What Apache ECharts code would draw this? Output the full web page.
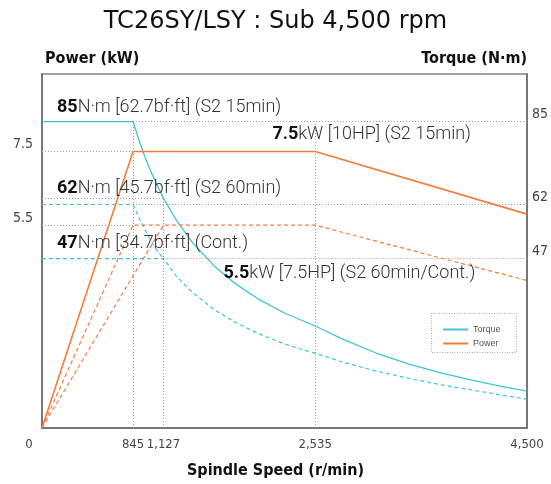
<!DOCTYPE html>
<html>
<head>
<meta charset="utf-8">
<script src="https://cdn.jsdelivr.net/npm/echarts@6/dist/echarts.min.js"></script>
<style>
html,body{margin:0;padding:0;background:#fff;}
#c{width:551px;height:484px;}
</style>
</head>
<body>
<div id="c"></div>
<script>
// ---- tick labels ----
const speedTicks = [0, 845, 1127, 2535, 4500];
const powerTicks = [5.5, 7.5];
const torqueTicks = [47, 62, 85];

// ---- torque curves (N·m) ----
const torque15Speed = [0, 845, 900, 950, 1000, 1127, 1250, 1400, 1600, 1800, 2000, 2250, 2535, 2800, 3100, 3400, 3700, 4000, 4250, 4500];
const torque15Value = [85, 85, 79.8, 75.6, 71.8, 63.7, 57.5, 51.3, 44.9, 39.9, 35.9, 31.9, 28.3, 24.5, 20.8, 17.8, 15.3, 13.2, 11.6, 10.2];

const torque60Speed = [0, 845, 900, 950, 1000, 1060, 1127];
const torque60Value = [62, 62, 58.4, 55.3, 52.5, 49.5, 47];

const torqueContSpeed = [0, 1127, 1250, 1400, 1600, 1800, 2000, 2250, 2535, 2800, 3100, 3400, 3700, 4000, 4250, 4500];
const torqueContValue = [47, 47, 42.0, 37.5, 32.8, 29.2, 26.3, 23.3, 20.7, 18.2, 15.8, 13.8, 12.0, 10.5, 9.2, 8.0];

// ---- power curves (kW) ----
const power15Speed = [0, 845, 2535, 4500];
const power15Value = [0, 7.5, 7.5, 5.8];

const power60Speed = [0, 845, 1127];
const power60Value = [0, 5.5, 5.5];

const powerContSpeed = [0, 1127, 2535, 4500];
const powerContValue = [0, 5.5, 5.5, 4.0];

// ---- reference (dotted) lines ----
const torqueRefH = [[845, 4500, 85], [845, 4500, 62], [1127, 4500, 47], [0, 1127, 63.7]]; // [from, to, torque]
const torqueRefV = [[845, 85], [1127, 63.7], [2535, 85]];                               // [speed, top torque]
const powerRefH = [[0, 845, 7.5], [0, 845, 5.5]];                                        // [from, to, power]

const zip = (xs, ys) => xs.map((x, i) => [x, ys[i]]);

const CYAN = '#3fc4d6';
const ORANGE = '#f47b3b';
const REF = { type: [1, 2], color: '#9a9a9a', width: 1 };
const LBL = "'Liberation Sans Narrow','DejaVu Sans Condensed',sans-serif";
const ANN = "Roboto,'Noto Sans',sans-serif";
const BOLDT = "'DejaVu Sans Condensed','Liberation Sans Narrow',sans-serif";

const annRich = {
  b: { fontFamily: ANN, fontSize: 18, fontWeight: 'bold', color: '#111' },
  n: { fontFamily: ANN, fontSize: 18, fontWeight: 300, color: '#333' }
};
function ann(coord, text, bold, offset, align) {
  return {
    coord: coord,
    symbol: 'circle', symbolSize: 0,
    itemStyle: { color: 'rgba(0,0,0,0)' },
    label: {
      show: true, position: 'inside', align: align || 'left', verticalAlign: 'middle',
      offset: offset, rich: annRich,
      formatter: '{b|' + bold + '}{n|' + text + '}'
    }
  };
}

const torqueRefLines = torqueRefH.map(r => [{ coord: [r[0], r[2]] }, { coord: [r[1], r[2]] }])
  .concat(torqueRefV.map(r => [{ coord: [r[0], 0] }, { coord: [r[0], r[1]] }]));
const powerRefLines = powerRefH.map(r => [{ coord: [r[0], r[2]] }, { coord: [r[1], r[2]] }]);

const chart = echarts.init(document.getElementById('c'), null, { renderer: 'canvas' });

chart.setOption({
  animation: false,
  backgroundColor: '#fff',
  title: [
    { text: 'TC26SY/LSY : Sub 4,500 rpm', left: 'center', top: 5,
      textStyle: { fontFamily: "'DejaVu Sans',sans-serif", fontSize: 24, fontWeight: 'normal', color: '#111' } },
    { text: 'Power (kW)', left: 40, top: 46,
      textStyle: { fontFamily: BOLDT, fontSize: 16, fontWeight: 'bold', color: '#111' } },
    { text: 'Torque (N·m)', right: 19, top: 46,
      textStyle: { fontFamily: BOLDT, fontSize: 16, fontWeight: 'bold', color: '#111' } },
    { text: 'Spindle Speed (r/min)', left: 'center', top: 458,
      textStyle: { fontFamily: BOLDT, fontSize: 16, fontWeight: 'bold', color: '#111' } }
  ],
  grid: { left: 42, right: 17, top: 74, bottom: 56, show: true, borderColor: '#444', borderWidth: 1 },
  legend: {
    data: ['Torque', 'Power'], orient: 'vertical', left: 438, top: 320,
    itemWidth: 25, itemHeight: 2, itemGap: 5, icon: 'rect',
    textStyle: { fontFamily: "'Liberation Sans',sans-serif", fontSize: 9, color: '#555' }
  },
  graphic: [
    { type: 'rect', shape: { x: 431.5, y: 313.5, width: 85, height: 39 },
      style: { fill: 'none', stroke: '#aaa', lineWidth: 1, lineDash: [1, 1.5] }, silent: true }
  ],
  xAxis: {
    type: 'value', min: 0, max: 4500,
    axisLine: { show: true, onZero: false, lineStyle: { color: '#777', width: 2 } },
    axisTick: { show: false }, splitLine: { show: false },
    axisLabel: {
      customValues: speedTicks, margin: 10,
      fontFamily: LBL, fontSize: 13, color: '#444',
      formatter: v => v === 0 ? '{z|0}' : v.toLocaleString('en-US'),
      rich: { z: { padding: [0, 26, 0, 0], fontFamily: LBL, fontSize: 13, color: '#444' } }
    }
  },
  yAxis: [
    { type: 'value', min: 0, max: 9.6, position: 'left',
      axisLine: { show: true, lineStyle: { color: '#777', width: 2 } },
      axisTick: { show: false }, splitLine: { show: false },
      axisLabel: { customValues: powerTicks, margin: 9, verticalAlign: 'bottom',
        fontFamily: LBL, fontSize: 14, color: '#444', formatter: v => v.toFixed(1) } },
    { type: 'value', min: 0, max: 98.2, position: 'right',
      axisLine: { show: true, lineStyle: { color: '#777', width: 2 } },
      axisTick: { show: false }, splitLine: { show: false },
      axisLabel: { customValues: torqueTicks, margin: 5, verticalAlign: 'bottom',
        fontFamily: LBL, fontSize: 14, color: '#444', formatter: v => String(v) } }
  ],
  series: [
    { name: 'Torque', type: 'line', yAxisIndex: 1, data: zip(torque15Speed, torque15Value),
      showSymbol: false, lineStyle: { color: CYAN, width: 1.3 }, itemStyle: { color: CYAN }, z: 3,
      markLine: { silent: true, symbol: ['none', 'none'], label: { show: false }, lineStyle: REF, data: torqueRefLines },
      markPoint: { silent: true, data: [
        ann([0, 85], 'N·m [62.7bf·ft] (S2 15min)', '85', [15, -14]),
        ann([0, 62], 'N·m [45.7bf·ft] (S2 60min)', '62', [15, -16]),
        ann([0, 47], 'N·m [34.7bf·ft] (Cont.)', '47', [15, -15])
      ] } },
    { name: 'Torque', type: 'line', yAxisIndex: 1, data: zip(torque60Speed, torque60Value),
      showSymbol: false, lineStyle: { color: CYAN, width: 1.2, type: [4, 3] }, itemStyle: { color: CYAN }, z: 3 },
    { name: 'Torque', type: 'line', yAxisIndex: 1, data: zip(torqueContSpeed, torqueContValue),
      showSymbol: false, lineStyle: { color: CYAN, width: 1.2, type: [4, 3] }, itemStyle: { color: CYAN }, z: 3 },
    { name: 'Power', type: 'line', yAxisIndex: 0, data: zip(power15Speed, power15Value),
      showSymbol: false, lineStyle: { color: ORANGE, width: 1.6 }, itemStyle: { color: ORANGE }, z: 4,
      markLine: { silent: true, symbol: ['none', 'none'], label: { show: false }, lineStyle: REF, data: powerRefLines },
      markPoint: { silent: true, data: [
        ann([4500, 7.5], 'kW [10HP] (S2 15min)', '7.5', [-56, -17], 'right'),
        ann([1127, 5.5], 'kW [7.5HP] (S2 60min/Cont.)', '5.5', [60, 48])
      ] } },
    { name: 'Power', type: 'line', yAxisIndex: 0, data: zip(power60Speed, power60Value),
      showSymbol: false, lineStyle: { color: ORANGE, width: 1.2, type: [4, 3] }, itemStyle: { color: ORANGE }, z: 4 },
    { name: 'Power', type: 'line', yAxisIndex: 0, data: zip(powerContSpeed, powerContValue),
      showSymbol: false, lineStyle: { color: ORANGE, width: 1.2, type: [4, 3] }, itemStyle: { color: ORANGE }, z: 4 }
  ]
});
</script>
</body>
</html>
